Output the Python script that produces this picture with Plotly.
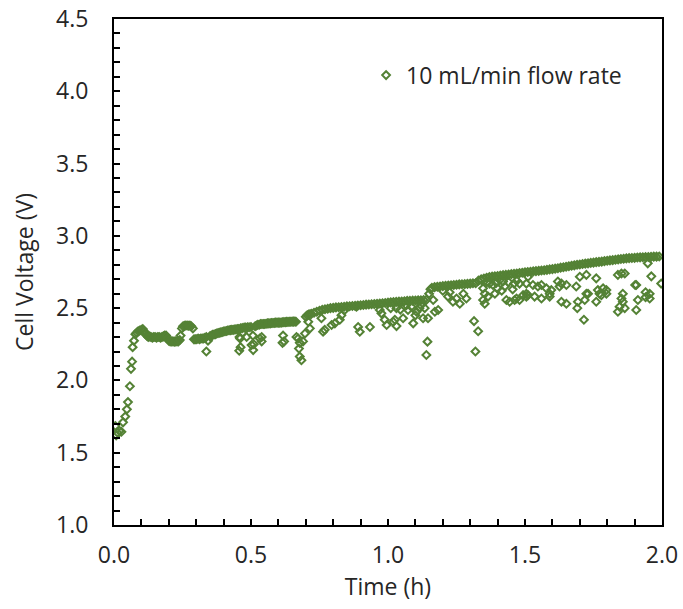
import plotly.graph_objects as go

# Main trajectory of the cell voltage (h, V)
t_main = [0.005, 0.008, 0.012, 0.02, 0.027, 0.033, 0.041, 0.047, 0.051, 0.058, 0.062, 0.066, 0.068, 0.073,
          0.078, 0.083, 0.088, 0.094, 0.1, 0.105, 0.11, 0.115, 0.12,
          0.125, 0.13, 0.135, 0.14, 0.145, 0.15, 0.155, 0.16, 0.165, 0.17, 0.175, 0.18, 0.185, 0.19,
          0.195, 0.2, 0.205, 0.21, 0.215, 0.22, 0.225, 0.23, 0.235, 0.24, 0.243,
          0.248, 0.252, 0.257, 0.262, 0.267, 0.272, 0.277, 0.282, 0.288,
          0.292, 0.297, 0.302, 0.307, 0.312, 0.317, 0.322, 0.327, 0.332, 0.337,
          0.35, 0.355, 0.36, 0.365, 0.37, 0.375, 0.38, 0.385, 0.39, 0.395, 0.4, 0.405, 0.41, 0.415, 0.42,
          0.425, 0.43, 0.435, 0.44, 0.445, 0.45,
          0.455, 0.462, 0.468, 0.475, 0.48, 0.487, 0.493, 0.5,
          0.515, 0.52, 0.525, 0.53, 0.535, 0.54, 0.545, 0.55, 0.555, 0.56, 0.565, 0.57, 0.575, 0.58, 0.585,
          0.59, 0.595, 0.6, 0.605, 0.61, 0.615, 0.62, 0.625, 0.63, 0.635, 0.64, 0.645, 0.65, 0.655, 0.66, 0.664,
          0.7, 0.705, 0.71, 0.715, 0.72, 0.73, 0.74, 0.75, 0.76, 0.77, 0.78, 0.79, 0.8, 0.81, 0.82, 0.83, 0.84,
          0.85, 0.86, 0.87, 0.88, 0.89, 0.9, 0.91, 0.92, 0.93, 0.94, 0.95, 0.96, 0.97, 0.98, 0.99, 1.0, 1.01,
          1.02, 1.03, 1.04, 1.05, 1.06, 1.07, 1.08, 1.09, 1.1, 1.11, 1.12, 1.13, 1.14,
          1.15, 1.155, 1.16, 1.17, 1.18, 1.19, 1.2, 1.21, 1.22, 1.23, 1.24, 1.25, 1.26, 1.27, 1.28, 1.29, 1.3,
          1.31, 1.32,
          1.33, 1.34, 1.35, 1.36, 1.37, 1.38, 1.39, 1.4, 1.41, 1.42, 1.43, 1.44, 1.45, 1.46, 1.47, 1.48, 1.49,
          1.5, 1.51, 1.52, 1.53, 1.54, 1.55, 1.56, 1.57, 1.58, 1.59, 1.6, 1.61, 1.62, 1.63, 1.64, 1.65, 1.66,
          1.67, 1.68, 1.69, 1.7, 1.71, 1.72, 1.73, 1.74, 1.75, 1.76, 1.77, 1.78, 1.79, 1.8, 1.81, 1.82, 1.83,
          1.84, 1.85, 1.86, 1.87, 1.88, 1.89, 1.9, 1.91, 1.92, 1.93, 1.94, 1.95, 1.96, 1.97, 1.98, 1.99]
v_main = [1.685, 1.62, 1.64, 1.65, 1.645, 1.71, 1.75, 1.80, 1.85, 1.96, 2.08, 2.13, 2.23, 2.275,
          2.32, 2.33, 2.34, 2.345, 2.35, 2.355, 2.34, 2.32, 2.31,
          2.30, 2.305, 2.30, 2.295, 2.30, 2.30, 2.295, 2.30, 2.30, 2.295, 2.30, 2.305, 2.31, 2.31,
          2.29, 2.275, 2.27, 2.27, 2.27, 2.268, 2.27, 2.27, 2.27, 2.28, 2.31,
          2.36, 2.375, 2.378, 2.38, 2.38, 2.378, 2.38, 2.375, 2.36,
          2.284, 2.285, 2.285, 2.29, 2.285, 2.29, 2.29, 2.29, 2.295, 2.30,
          2.305, 2.31, 2.315, 2.318, 2.32, 2.325, 2.328, 2.33, 2.332, 2.335, 2.338, 2.34, 2.342, 2.345, 2.347,
          2.348, 2.35, 2.35, 2.352, 2.353, 2.355,
          2.355, 2.36, 2.362, 2.365, 2.366, 2.367, 2.368, 2.37,
          2.375, 2.38, 2.385, 2.385, 2.39, 2.39, 2.39, 2.39, 2.392, 2.395, 2.395, 2.395, 2.397, 2.397, 2.398,
          2.40, 2.40, 2.40, 2.40, 2.40, 2.402, 2.403, 2.403, 2.405, 2.405, 2.406, 2.406, 2.407, 2.407, 2.408, 2.406,
          2.44, 2.45, 2.455, 2.458, 2.46, 2.468, 2.475, 2.482, 2.488, 2.492, 2.496, 2.50, 2.502, 2.505, 2.506, 2.508, 2.51,
          2.512, 2.513, 2.515, 2.516, 2.518, 2.52, 2.522, 2.524, 2.525, 2.527, 2.528, 2.53, 2.532, 2.534, 2.536, 2.538, 2.54,
          2.542, 2.543, 2.545, 2.546, 2.548, 2.55, 2.55, 2.552, 2.553, 2.554, 2.555, 2.556, 2.557,
          2.60, 2.63, 2.64, 2.645, 2.648, 2.65, 2.652, 2.655, 2.656, 2.658, 2.66, 2.662, 2.664, 2.665, 2.666, 2.668, 2.67,
          2.672, 2.672,
          2.69, 2.70, 2.705, 2.71, 2.715, 2.718, 2.72, 2.722, 2.725, 2.728, 2.73, 2.732, 2.735, 2.738, 2.74, 2.742, 2.745,
          2.748, 2.75, 2.752, 2.754, 2.756, 2.758, 2.76, 2.762, 2.765, 2.768, 2.77, 2.773, 2.776, 2.78, 2.783, 2.786, 2.79,
          2.793, 2.796, 2.80, 2.802, 2.805, 2.808, 2.81, 2.813, 2.815, 2.818, 2.82, 2.822, 2.825, 2.828, 2.83, 2.832, 2.835,
          2.837, 2.84, 2.842, 2.844, 2.846, 2.847, 2.848, 2.85, 2.851, 2.852, 2.853, 2.854, 2.855, 2.856, 2.856, 2.857]

# Scattered readings below the main trajectory (h, V)
t_scatter = [0.337, 0.343, 0.458, 0.462, 0.457, 0.469, 0.46,
             0.484, 0.502, 0.508, 0.51, 0.507, 0.532, 0.539, 0.539,
             0.617, 0.621, 0.615,
             0.666, 0.672, 0.678, 0.675, 0.684, 0.678, 0.69, 0.697,
             0.709, 0.715, 0.757, 0.769, 0.763, 0.794, 0.806, 0.824, 0.83,
             0.891, 0.897, 0.934, 0.976, 0.988, 0.995,
             0.842, 0.885, 0.97,
             1.019, 1.031, 1.025, 1.031, 1.055, 1.067, 1.073, 1.092, 1.104, 1.10, 1.128, 1.134, 1.146,
             1.01, 1.045, 1.085, 1.115, 1.12,
             1.144, 1.14,
             1.165, 1.171, 1.183,
             1.219, 1.237, 1.25, 1.262, 1.286, 1.225, 1.2, 1.275,
             1.314, 1.329, 1.319,
             1.341, 1.347, 1.353, 1.347, 1.353, 1.365, 1.371, 1.383, 1.39, 1.40, 1.408, 1.42, 1.426, 1.432,
             1.444, 1.462, 1.469, 1.48, 1.48, 1.493, 1.505, 1.505,
             1.36, 1.395, 1.44, 1.46, 1.47, 1.415, 1.455,
             1.511, 1.505, 1.529, 1.547, 1.56, 1.578, 1.59, 1.596, 1.62, 1.626, 1.633, 1.651, 1.687, 1.70,
             1.724, 1.73, 1.76, 1.766, 1.772, 1.785, 1.797, 1.839, 1.852, 1.864, 1.906, 1.961, 1.997,
             1.511, 1.535, 1.56, 1.59, 1.633, 1.651, 1.693, 1.691, 1.718, 1.724, 1.76, 1.779, 1.797,
             1.715, 1.845, 1.839, 1.864, 1.852, 1.857, 1.912, 1.906, 1.955, 1.955, 1.857,
             1.94, 1.94, 1.902, 1.948]
v_scatter = [2.20, 2.275, 2.30, 2.23, 2.205, 2.33, 2.29,
             2.30, 2.245, 2.21, 2.25, 2.31, 2.29, 2.27, 2.30,
             2.31, 2.27, 2.26,
             2.30, 2.29, 2.26, 2.22, 2.14, 2.165, 2.27, 2.325,
             2.406, 2.36, 2.43, 2.35, 2.337, 2.383, 2.395, 2.42, 2.45,
             2.37, 2.337, 2.37, 2.464, 2.42, 2.383,
             2.487, 2.51, 2.487,
             2.406, 2.50, 2.42, 2.376, 2.43, 2.52, 2.487, 2.395, 2.475, 2.45, 2.43, 2.50, 2.43,
             2.50, 2.49, 2.51, 2.50, 2.52,
             2.268, 2.176,
             2.556, 2.475, 2.487,
             2.58, 2.544, 2.567, 2.53, 2.567, 2.61, 2.62, 2.60,
             2.41, 2.34, 2.20,
             2.694, 2.637, 2.60, 2.556, 2.53, 2.58, 2.67, 2.66, 2.60, 2.637, 2.694, 2.684, 2.65, 2.556,
             2.544, 2.556, 2.567, 2.556, 2.67, 2.59, 2.60, 2.58,
             2.68, 2.675, 2.68, 2.67, 2.69, 2.62, 2.63,
             2.717, 2.67, 2.66, 2.65, 2.66, 2.637, 2.60, 2.625, 2.684, 2.65, 2.67, 2.66, 2.65, 2.717,
             2.73, 2.60, 2.706, 2.625, 2.60, 2.637, 2.625, 2.73, 2.74, 2.74, 2.66, 2.72, 2.67,
             2.59, 2.58, 2.567, 2.58, 2.544, 2.53, 2.544, 2.50, 2.556, 2.60, 2.544, 2.59, 2.60,
             2.42, 2.51, 2.475, 2.50, 2.567, 2.60, 2.556, 2.487, 2.60, 2.567, 2.544,
             2.61, 2.575, 2.66, 2.81]

series_name = "10 mL/min flow rate"
x_title = "Time (h)"
y_title = "Cell Voltage (V)"
x_ticks = [0.0, 0.5, 1.0, 1.5, 2.0]
y_ticks = [1.0, 1.5, 2.0, 2.5, 3.0, 3.5, 4.0, 4.5]

green = "#548235"
font_family = "Open Sans, Lato, sans-serif"
text_color = "#262626"

fig = go.Figure()
fig.add_trace(go.Scatter(
    x=t_main + t_scatter,
    y=v_main + v_scatter,
    mode="markers",
    name=series_name,
    marker=dict(symbol="diamond-open", size=6, color=green, line=dict(width=2, color=green)),
))

axis_common = dict(
    showline=True, linecolor="black", linewidth=2, mirror=True,
    showgrid=False, zeroline=False, automargin=False,
    ticks="inside", ticklen=6, tickwidth=1.5, tickcolor="black",
    tickfont=dict(family=font_family, size=23, color=text_color),
    title_font=dict(family=font_family, size=23, color=text_color),
)

fig.update_xaxes(
    range=[0, 2.0], tickvals=x_ticks, ticktext=[f"{v:.1f}" for v in x_ticks],
    minor=dict(ticks="inside", dtick=0.1, ticklen=6, tickwidth=1.5, tickcolor="black"),
    ticklabelstandoff=8,
    title_text=x_title, title_standoff=8, **axis_common,
)
fig.update_yaxes(
    range=[1.0, 4.5], tickvals=y_ticks, ticktext=[f"{v:.1f}" for v in y_ticks],
    minor=dict(ticks="inside", dtick=0.1, ticklen=6, tickwidth=1.5, tickcolor="black"),
    ticklabelstandoff=19,
    title_text=y_title, title_standoff=16, **axis_common,
)

fig.update_layout(
    width=683, height=609,
    margin=dict(l=114, r=21, t=19, b=84),
    paper_bgcolor="white", plot_bgcolor="white",
    showlegend=True,
    legend=dict(
        x=0.46, y=0.889, xanchor="left", yanchor="middle",
        bgcolor="rgba(0,0,0,0)",
        font=dict(family=font_family, size=23, color=text_color),
        itemsizing="trace",
    ),
)

fig.write_html("out.html")
